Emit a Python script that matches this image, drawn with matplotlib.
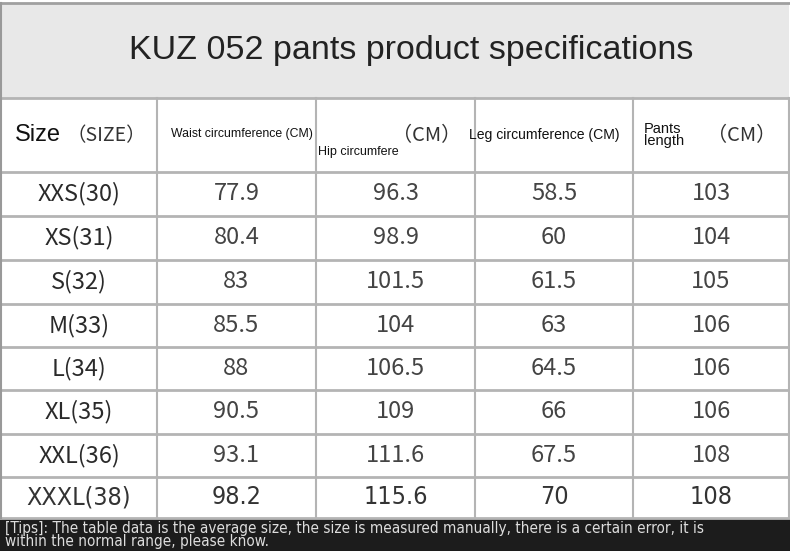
import matplotlib
matplotlib.use("Agg")
from matplotlib import pyplot as plt
from matplotlib.patches import Rectangle

title = "KUZ 052 pants product specifications"
sizes = ["XXS(30)", "XS(31)", "S(32)", "M(33)", "L(34)", "XL(35)", "XXL(36)", "XXXL(38)"]
waist = ["77.9", "80.4", "83", "85.5", "88", "90.5", "93.1", "98.2"]
hip = ["96.3", "98.9", "101.5", "104", "106.5", "109", "111.6", "115.6"]
leg = ["58.5", "60", "61.5", "63", "64.5", "66", "67.5", "70"]
length = ["103", "104", "105", "106", "106", "106", "108", "108"]
tips = ("[Tips]: The table data is the average size, the size is measured manually, there is a certain error, it is\n"
        "within the normal range, please know.")

W, H = 790, 551
col_edges = [1, 157, 316, 475, 633, 789]
row_edges = [172, 216, 260, 304, 347, 390, 434, 477, 518]

fig = plt.figure(figsize=(7.9, 5.51), dpi=100)
ax = fig.add_axes([0, 0, 1, 1])
ax.set_xlim(0, W)
ax.set_ylim(H, 0)
ax.axis("off")

cjk = ["Noto Sans CJK SC", "DejaVu Sans"]
sans = ["Liberation Sans", "DejaVu Sans"]
narrow = ["Liberation Sans Narrow", "DejaVu Sans"]
line_c = "#b4b4b4"

# title band
ax.add_patch(Rectangle((1, 3), W - 2, 95, facecolor="#e8e8e8", edgecolor="none"))
ax.text(411, 50, title, ha="center", va="center", fontsize=24.5, family=sans, color="#222222")

# tips band
ax.add_patch(Rectangle((0, 518), W, H - 518, facecolor="#1c1c1c", edgecolor="none"))
ax.text(5, 535, tips, ha="left", va="center", fontsize=11, family=narrow, fontstretch="condensed",
        color="#dddddd", linespacing=0.82)

# grid
ax.plot([0, W], [3, 3], color="#a0a0a0", lw=2)
ax.plot([0, W], [98, 98], color=line_c, lw=2)
for y in row_edges:
    ax.plot([0, W], [y, y], color=line_c, lw=2)
for i, x in enumerate(col_edges):
    top = 3 if i == 0 else 98
    ax.plot([x, x], [top, 518], color="#999999" if i == 0 else line_c, lw=1.5)

# header row
hy = 135
ax.text(15, hy, "Size", ha="left", va="center", fontsize=17, family=sans, color="#111111")
ax.text(66, hy + 1, "（SIZE）", ha="left", va="center", fontsize=14, family=cjk, color="#333333")
ax.text(171, hy - 1, "Waist circumference (CM)", ha="left", va="center", fontsize=8.8, family=sans, color="#111111")
ax.text(318, 152, "Hip circumfere", ha="left", va="center", fontsize=9, family=sans, color="#111111")
ax.text(392, hy + 1, "（CM）", ha="left", va="center", fontsize=14.5, family=cjk, color="#333333")
ax.text(469, hy, "Leg circumference (CM)", ha="left", va="center", fontsize=10.1, family=sans, color="#111111")
ax.text(644, hy, "Pants\nlength", ha="left", va="center", fontsize=10.5, family=sans, color="#111111",
        linespacing=0.8)
ax.text(707, hy + 1, "（CM）", ha="left", va="center", fontsize=14.5, family=cjk, color="#333333")

# data rows
columns = [sizes, waist, hip, leg, length]
for r in range(len(sizes)):
    yc = (row_edges[r] + row_edges[r + 1]) / 2
    last = r == len(sizes) - 1
    for c, col in enumerate(columns):
        xc = (col_edges[c] + col_edges[c + 1]) / 2
        if last:
            ax.text(xc, yc, col[r], ha="center", va="center", fontsize=18, family=narrow,
                    fontstretch="condensed", color="#333333")
        else:
            ax.text(xc, yc, col[r], ha="center", va="center", fontsize=17, family=cjk,
                    fontweight="light", color="#2a2a2a" if c == 0 else "#444444")

fig.savefig("out.png", dpi=100)
